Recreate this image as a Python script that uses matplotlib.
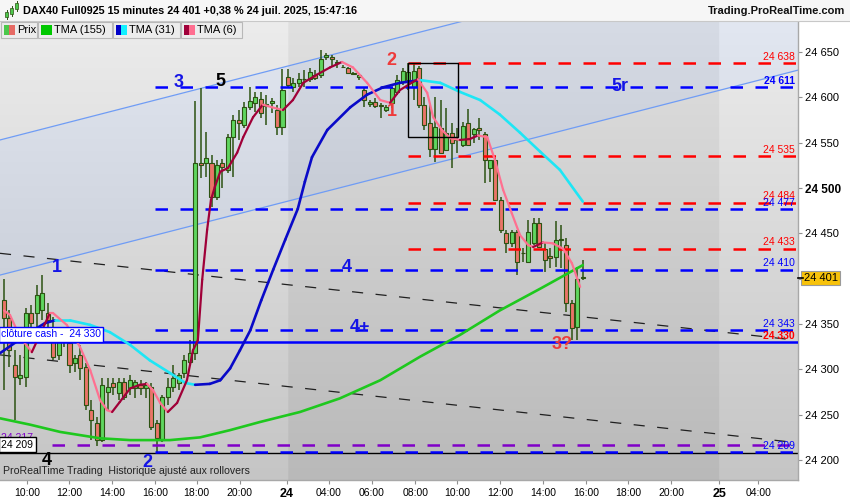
import numpy as np
import matplotlib
matplotlib.use("Agg")
import matplotlib.pyplot as plt
from matplotlib.collections import LineCollection
from matplotlib.patches import Rectangle

plt.rcParams['font.family'] = ['Liberation Sans', 'DejaVu Sans']
plt.rcParams['lines.scale_dashes'] = False

# ---------------- data (15-minute candles, DAX40) ----------------
OPEN = [24377, 24357, 24305, 24290, 24292, 24362, 24362, 24365, 24362, 24338,
        24316, 24332, 24329, 24307, 24316, 24303, 24255, 24241, 24222, 24275,
        24285, 24274, 24286, 24279, 24279, 24283, 24279, 24281, 24241, 24222,
        24270, 24281, 24285, 24296, 24308, 24318, 24528, 24528, 24528, 24490,
        24528, 24520, 24556, 24575, 24569, 24589, 24594, 24598, 24593, 24594,
        24586, 24567, 24622, 24611, 24616, 24620, 24620, 24625, 24625, 24645,
        24645, 24639, 24633, 24632, 24627, 24622, 24608, 24593, 24595, 24592,
        24586, 24594, 24606, 24617, 24619, 24611, 24632, 24592, 24572, 24543,
        24566, 24542, 24561, 24553, 24547, 24572, 24560, 24566, 24560, 24522,
        24531, 24487, 24450, 24439, 24451, 24428, 24418, 24439, 24461, 24433,
        24425, 24424, 24444, 24437, 24373, 24347, 24401]
HIGH = [24400, 24365, 24321, 24316, 24368, 24371, 24393, 24404, 24373, 24358,
        24343, 24338, 24330, 24316, 24327, 24307, 24266, 24247, 24290, 24290,
        24290, 24290, 24290, 24294, 24288, 24288, 24286, 24285, 24244, 24272,
        24291, 24305, 24296, 24316, 24332, 24596, 24610, 24562, 24536, 24531,
        24532, 24560, 24581, 24586, 24595, 24611, 24606, 24606, 24603, 24599,
        24592, 24631, 24631, 24621, 24627, 24630, 24632, 24630, 24652, 24649,
        24647, 24641, 24636, 24633, 24628, 24625, 24610, 24597, 24599, 24594,
        24592, 24610, 24625, 24632, 24638, 24638, 24635, 24600, 24592, 24600,
        24597, 24588, 24572, 24566, 24573, 24587, 24566, 24577, 24562, 24531,
        24533, 24490, 24454, 24454, 24454, 24434, 24465, 24467, 24467, 24440,
        24434, 24464, 24459, 24445, 24376, 24413, 24421]
LOW = [24277, 24303, 24244, 24283, 24281, 24343, 24343, 24354, 24343, 24310,
       24310, 24325, 24296, 24297, 24288, 24255, 24222, 24215, 24220, 24255,
       24272, 24266, 24266, 24272, 24268, 24272, 24268, 24233, 24208, 24220,
       24261, 24275, 24277, 24290, 24305, 24310, 24511, 24512, 24479, 24487,
       24500, 24517, 24512, 24553, 24566, 24586, 24584, 24577, 24569, 24583,
       24558, 24558, 24610, 24606, 24611, 24611, 24617, 24619, 24621, 24641,
       24633, 24632, 24632, 24627, 24626, 24619, 24589, 24589, 24588, 24577,
       24584, 24588, 24603, 24614, 24608, 24597, 24588, 24564, 24534, 24529,
       24539, 24542, 24522, 24539, 24545, 24547, 24550, 24553, 24506, 24507,
       24487, 24450, 24428, 24435, 24404, 24418, 24417, 24437, 24435, 24407,
       24412, 24413, 24412, 24363, 24332, 24332, 24399]
CLOSE = [24357, 24321, 24292, 24294, 24362, 24351, 24382, 24384, 24354, 24314,
         24330, 24330, 24305, 24312, 24301, 24261, 24244, 24222, 24283, 24281,
         24281, 24286, 24270, 24288, 24286, 24279, 24283, 24236, 24224, 24270,
         24281, 24290, 24294, 24310, 24318, 24528, 24525, 24533, 24490, 24525,
         24523, 24556, 24575, 24572, 24589, 24596, 24600, 24583, 24591, 24596,
         24567, 24608, 24614, 24616, 24620, 24620, 24628, 24621, 24642, 24647,
         24642, 24638, 24633, 24627, 24626, 24625, 24597, 24595, 24590, 24591,
         24589, 24610, 24619, 24629, 24628, 24629, 24592, 24569, 24543, 24567,
         24539, 24561, 24550, 24554, 24568, 24547, 24565, 24564, 24531, 24531,
         24487, 24454, 24439, 24451, 24418, 24428, 24451, 24461, 24435, 24421,
         24423, 24443, 24443, 24373, 24346, 24400, 24401]

# Triangular moving averages (bar index, price)
TMA155_X = [-0.7, 4.8, 10.3, 17.6, 23.1, 30.4, 35.9, 41.4, 46.9, 54.2, 61.5,
            68.9, 76.2, 83.5, 90.8, 98.2, 106.0]
TMA155_Y = [24246, 24239, 24231, 24224, 24222, 24222, 24225, 24233, 24242,
            24253, 24268, 24288, 24314, 24338, 24365, 24389, 24415]

TMA31_X = [-0.7, 4.8, 7.5, 9.3, 12.1, 15.8, 19.4, 23.1, 26.7, 30.4, 33.2, 35.0,
           37.7, 39.6, 41.4, 43.2, 45.1, 47.1, 49.3, 51.5, 53.8, 55.1, 56.4,
           59.2, 63.4, 66.5, 69.4, 72.5, 76.2, 79.9, 83.5, 87.2, 90.8, 94.5,
           98.2, 101.8, 106.0]
TMA31_Y = [24318, 24341, 24351, 24354, 24354, 24349, 24341, 24327, 24310, 24296,
           24285, 24283, 24284, 24288, 24301, 24321, 24343, 24376, 24410, 24443,
           24477, 24507, 24534, 24564, 24589, 24603, 24611, 24616, 24619, 24616,
           24606, 24597, 24581, 24561, 24540, 24520, 24485]

TMA6_X = [0.0, 1.1, 2.9, 5.1, 8.4, 9.0, 11.5, 13.9, 15.8, 17.6, 18.9, 19.8,
          21.2, 23.1, 24.9, 26.2, 27.3, 28.6, 30.0, 31.7, 33.5, 34.6, 35.5,
          36.3, 37.2, 37.9, 38.6, 39.6, 41.0, 42.7, 43.8, 45.6, 47.4, 49.1,
          51.1, 52.9, 54.8, 57.3, 59.7, 61.9, 63.9, 66.5, 68.9, 70.7, 72.5,
          74.9, 75.8, 77.5, 78.6, 80.2, 81.7, 83.5, 85.3, 86.8, 88.5, 89.9,
          91.4, 93.0, 94.5, 96.0, 96.9, 98.7, 100.5, 102.4, 104.0, 105.5]
TMA6_Y = [24365, 24360, 24336, 24319, 24362, 24362, 24349, 24325, 24299, 24266,
          24255, 24253, 24264, 24279, 24283, 24284, 24277, 24263, 24253, 24263,
          24288, 24321, 24332, 24399, 24454, 24487, 24501, 24518, 24522, 24539,
          24556, 24578, 24592, 24589, 24586, 24597, 24616, 24625, 24633, 24639,
          24633, 24616, 24597, 24594, 24608, 24617, 24620, 24605, 24578, 24564,
          24555, 24553, 24554, 24558, 24556, 24531, 24498, 24472, 24448, 24437,
          24435, 24440, 24439, 24433, 24417, 24391]

# time axis labels (bar-index positions)
TICK_POS = [4.2, 11.9, 19.8, 27.7, 35.3, 43.2, 51.8, 59.5, 67.4, 75.3, 83.0,
            90.8, 98.7, 106.6, 114.3, 122.2, 131.0, 138.1]
TICK_LABELS = ["10:00", "12:00", "14:00", "16:00", "18:00", "20:00", "24",
               "04:00", "06:00", "08:00", "10:00", "12:00", "14:00", "16:00",
               "18:00", "20:00", "25", "04:00"]
DAY_BOUNDS = [52.0, 131.1]

# horizontal levels
RED_LEVELS = [24638, 24535, 24484, 24433]
RED_START = 74.0
BLUE_LEVELS = [24611, 24477, 24410, 24343, 24209]
BLUE_START = 27.7
PURPLE_LEVEL = 24217
PURPLE_START = 8.8
CASH_CLOSE = 24330
BASE_LEVEL = 24208
LAST_PRICE = 24401

# drawn objects: channel and trend lines (index, price)
CHAN_LOW = [(-0.73, 24404), (145.4, 24630)]
CHAN_HIGH = [(-0.73, 24553), (145.4, 24779)]
TREND_A = [(-0.73, 24428), (145.4, 24332)]
TREND_B = [(-0.73, 24316), (145.4, 24219)]
BOX = (73.9, 24556, 83.2, 24638)

RIGHT_LABELS = [(24638, 'red'), (24611, 'blue'), (24535, 'red'), (24484, 'red'),
                (24477, 'blue'), (24433, 'red'), (24410, 'blue'), (24343, 'blue'),
                (24330, 'red'), (24209, 'blue')]

NOTE_TEXT = ["1", "3", "5", "2", "1", "5r", "4", "4+", "3?", "4", "2"]
NOTE_X = [9.7, 31.9, 39.7, 70.9, 71.1, 112.8, 62.8, 65.2, 102.2, 7.9, 26.2]
NOTE_Y = [24412, 24616, 24618, 24641, 24584, 24612, 24412, 24346, 24327, 24200, 24197]
NOTE_C = ['b', 'b', 'k', 'r', 'r', 'b', 'b', 'b', 'r', 'k', 'b']

XMIN, XMAX = -0.73, 145.4
YMIN, YMAX = 24178, 24684.2

COL = {'b': '#1414e6', 'k': '#000000', 'r': '#ee3a3a',
       'red': '#ff0000', 'blue': '#0000ff'}


def fmt(v):
    v = int(round(v))
    return f"{v // 1000} {v % 1000:03d}"


W, H = 850, 500
fig = plt.figure(figsize=(8.5, 5.0), dpi=100)
fig.patch.set_facecolor('white')


def fx(px):
    return px / W


def fy(py):
    return 1 - py / H


ax = fig.add_axes([0, fy(480), fx(798), fy(21) - fy(480)])
ax.set_xlim(XMIN, XMAX)
ax.set_ylim(YMIN, YMAX)

# ---------- background ----------
nx, ny = 800, 460
xs = np.linspace(XMIN, XMAX, nx)
ys = np.linspace(YMAX, YMIN, ny)
X, Y = np.meshgrid(xs, ys)
t = (Y - YMIN) / (YMAX - YMIN)
g = 197 + 39 * t
mid = (X >= DAY_BOUNDS[0]) & (X < DAY_BOUNDS[1])
g = np.where(mid, g - 12, g)


def line_at(pts, x):
    (x0, y0), (x1, y1) = pts
    return y0 + (y1 - y0) * (x - x0) / (x1 - x0)


inside = (Y >= line_at(CHAN_LOW, X)) & (Y <= line_at(CHAN_HIGH, X))
R = np.where(inside, g - 10, g)
G = np.where(inside, g - 5, g)
B = np.where(inside, g + 5, g)
img = np.clip(np.dstack([R, G, B]) / 255.0, 0, 1)
ax.imshow(img, extent=(XMIN, XMAX, YMIN, YMAX), aspect='auto', zorder=0,
          interpolation='bilinear')

# channel lines
for pts in (CHAN_LOW, CHAN_HIGH):
    ax.plot([p[0] for p in pts], [p[1] for p in pts], color='#6f9cf5', lw=0.9, zorder=2)
# trend lines
for pts in (TREND_A, TREND_B):
    ax.plot([p[0] for p in pts], [p[1] for p in pts], color='#202020', lw=0.9,
            dashes=(8, 9), zorder=2)

# horizontal levels
ax.axhline(BASE_LEVEL, color='black', lw=1.0, zorder=2)
ax.axhline(CASH_CLOSE, color='#0000ff', lw=1.8, zorder=4)
for lv in RED_LEVELS:
    ax.plot([RED_START, XMAX], [lv, lv], color='#ff0000', lw=1.8, dashes=(9, 9), zorder=4)
for lv in BLUE_LEVELS:
    ax.plot([BLUE_START, XMAX], [lv, lv], color='#0000ff', lw=1.8, dashes=(9, 9), zorder=4)
ax.plot([PURPLE_START, XMAX], [PURPLE_LEVEL] * 2, color='#8000c8', lw=1.8,
        dashes=(9, 9), zorder=4)

# ---------- candles ----------
idx = np.arange(len(OPEN))
o = np.array(OPEN, float); c = np.array(CLOSE, float)
h = np.array(HIGH, float); l = np.array(LOW, float)
edge = '#2c5212'
ax.vlines(idx, l, h, color=edge, lw=1.1, zorder=3)
up = c >= o
body_h = np.maximum(np.abs(c - o), 0.7)
ax.bar(idx[up], body_h[up], bottom=np.minimum(o, c)[up], width=0.74,
       color='#5fd65f', edgecolor=edge, linewidth=0.8, zorder=3.1)
ax.bar(idx[~up], body_h[~up], bottom=np.minimum(o, c)[~up], width=0.74,
       color='#ea7468', edgecolor=edge, linewidth=0.8, zorder=3.1)


# ---------- moving averages ----------
def two_tone(xv, yv, c_up, c_dn, lw, z):
    xv = np.asarray(xv, float); yv = np.asarray(yv, float)
    segs = [[(xv[i], yv[i]), (xv[i + 1], yv[i + 1])] for i in range(len(xv) - 1)]
    cols = [c_up if yv[i + 1] > yv[i] else c_dn for i in range(len(xv) - 1)]
    lc = LineCollection(segs, colors=cols, linewidths=lw, zorder=z, capstyle='round',
                        joinstyle='round')
    ax.add_collection(lc)


ax.plot(TMA155_X, TMA155_Y, color='#1ec81e', lw=1.9, zorder=5,
        solid_capstyle='round')
two_tone(TMA31_X, TMA31_Y, '#0a0ac8', '#1ee6f5', 1.9, 5)
two_tone(TMA6_X, TMA6_Y, '#a00038', '#ff7090', 1.6, 5.2)

# rectangle
ax.add_patch(Rectangle((BOX[0], BOX[1]), BOX[2] - BOX[0], BOX[3] - BOX[1],
                       fill=False, ec='black', lw=1.0, zorder=6))

# ---------- annotations ----------
for s, x, y, cc in zip(NOTE_TEXT, NOTE_X, NOTE_Y, NOTE_C):
    ax.text(x, y, s, color=COL[cc], fontsize=13, fontweight='bold',
            ha='center', va='center', zorder=7)

for lv, cc in RIGHT_LABELS:
    bold = lv in (24611, 24330)
    ax.text(XMAX - 0.6, lv + 1.5, fmt(lv), color=COL[cc], fontsize=7.5,
            ha='right', va='bottom', zorder=7,
            fontweight='bold' if bold else 'normal')

ax.text(XMIN + 0.25, CASH_CLOSE + 3, "clôture cash -  " + fmt(CASH_CLOSE),
        color='#0000ff', fontsize=7.5, ha='left', va='bottom', zorder=8,
        bbox=dict(boxstyle='square,pad=0.2', fc='white', ec='#0000ff', lw=1))
ax.text(XMIN + 0.25, PURPLE_LEVEL + 2, fmt(PURPLE_LEVEL), color='#8000c8',
        fontsize=7.5, ha='left', va='bottom', zorder=7.5)
ax.text(XMIN + 0.25, BASE_LEVEL + 3.5, fmt(BASE_LEVEL + 1), color='black',
        fontsize=7.5, ha='left', va='bottom', zorder=8,
        bbox=dict(boxstyle='square,pad=0.25', fc='white', ec='black', lw=1))
ax.text(XMIN + 0.5, YMIN + 4, "ProRealTime Trading  Historique ajusté aux rollovers",
        color='#222222', fontsize=7.6, ha='left', va='bottom', zorder=7)

# ---------- axes styling ----------
for sp in ('left', 'top'):
    ax.spines[sp].set_visible(False)
for sp in ('right', 'bottom'):
    ax.spines[sp].set_color('#a8a8a8')
    ax.spines[sp].set_linewidth(1)
ax.yaxis.tick_right()
yt = list(range(24200, 24651, 50))
ax.set_yticks(yt)
ax.set_yticklabels([fmt(v) for v in yt], fontsize=8)
for lab, v in zip(ax.get_yticklabels(), yt):
    if v == 24500:
        lab.set_fontweight('bold')
        lab.set_fontsize(8.5)
ax.tick_params(axis='y', length=3, color='#909090', pad=2)
ax.set_xticks(TICK_POS)
ax.set_xticklabels(TICK_LABELS, fontsize=7.5)
for lab, s in zip(ax.get_xticklabels(), TICK_LABELS):
    if ':' not in s:
        lab.set_fontweight('bold')
        lab.set_fontsize(9)
ax.tick_params(axis='x', length=3, color='#909090', pad=3)

# last price marker
ax.annotate(fmt(LAST_PRICE), xy=(1.0, LAST_PRICE), xycoords=('axes fraction', 'data'),
            xytext=(4, 0), textcoords='offset points', fontsize=8,
            ha='left', va='center', annotation_clip=False, zorder=9,
            bbox=dict(boxstyle='square,pad=0.2', fc='#f7c20a', ec='#9a9a9a', lw=0.8))
ax.plot([XMAX, XMAX + 1.0], [LAST_PRICE] * 2, color='black', lw=1.2,
        clip_on=False, zorder=9)

# ---------- header ----------
fig.add_artist(Rectangle((0, fy(21)), 1, 21 / H, transform=fig.transFigure,
                         fc='#f6f6f6', ec='none', zorder=1))
fig.add_artist(plt.Line2D([0, 1], [fy(21), fy(21)], transform=fig.transFigure,
                          color='#c8c8c8', lw=0.8, zorder=2))
# icon
for (x0, y0, hh, cc) in [(5, 12, 5, '#4cc84c'), (10, 8, 6, '#4cc84c'), (15, 3, 6, '#4cc84c')]:
    fig.add_artist(plt.Line2D([fx(x0 + 1.5)] * 2, [fy(y0 - 2), fy(y0 + hh + 2)],
                              transform=fig.transFigure, color='#2c5212', lw=0.7, zorder=3))
    fig.add_artist(Rectangle((fx(x0), fy(y0 + hh)), 3 / W, hh / H, transform=fig.transFigure,
                             fc=cc, ec='#2c5212', lw=0.5, zorder=4))
fig.text(fx(23), fy(11.5), "DAX40 Full0925 15 minutes 24 401 +0,38 % 24 juil. 2025, 15:47:16",
         fontsize=7.8, fontweight='bold', ha='left', va='center', color='black', zorder=5)
fig.text(fx(845), fy(11.5), "Trading.ProRealTime.com", fontsize=8, fontweight='bold',
         ha='right', va='center', color='#111111', zorder=5)

# legend boxes
LEG = [(1, 37, "Prix", ('#4cc84c', '#e66a64')),
       (38, 112, "TMA (155)", ('#00c800', '#00c800')),
       (113, 180, "TMA (31)", ('#0000c8', '#10f0ff')),
       (181, 242, "TMA (6)", ('#a0003a', '#ff6e90'))]
for x0, x1, s, (c1, c2) in LEG:
    fig.add_artist(Rectangle((fx(x0), fy(38)), (x1 - x0) / W, 16 / H,
                             transform=fig.transFigure, fc='#ececec', ec='#b8b8b8',
                             lw=0.8, zorder=10))
    fig.add_artist(Rectangle((fx(x0 + 2.5), fy(34.5)), 5.5 / W, 9.5 / H,
                             transform=fig.transFigure, fc=c1, ec='none', zorder=11))
    fig.add_artist(Rectangle((fx(x0 + 8), fy(34.5)), 5.5 / W, 9.5 / H,
                             transform=fig.transFigure, fc=c2, ec='none', zorder=11))
    fig.text(fx(x0 + 16), fy(30), s, fontsize=8, ha='left', va='center',
             color='black', zorder=12)

fig.savefig("out.png", dpi=100, facecolor='white')
